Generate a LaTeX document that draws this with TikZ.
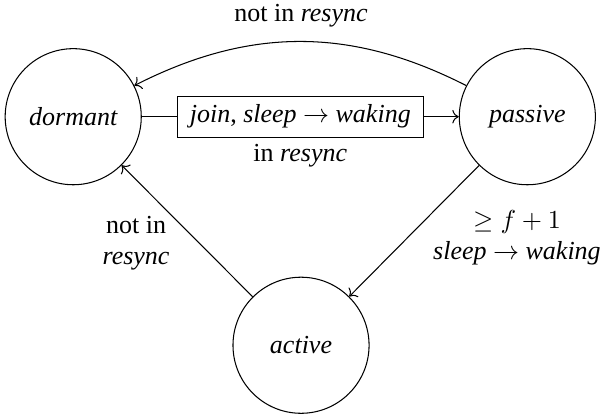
\documentclass[tikz,border=0pt]{standalone}
\usepackage{fontspec}
\setmainfont{Liberation Serif}
\usepackage{tikz}
\usetikzlibrary{arrows.meta, positioning}

\begin{document}
\begin{tikzpicture}[
    statenode/.style={draw, circle, minimum size=1.84cm, inner sep=0pt, font=\itshape},
    guardbox/.style={draw, fill=white, inner xsep=4.8pt},
    >=To]
    \useasboundingbox (0,0) rectangle (8.153,5.638);

    % States
    \node[statenode] (dormant) at (0.99, 4.06) {dormant};
    \node[statenode] (passive) at (7.13, 4.06) {passive};
    \node[statenode] (active) at (4.07, 0.97) {active};

    % dormant -> passive
    \draw[->] (dormant) -- node[guardbox] (joinbox) {\emph{join}, \emph{sleep} $\to$ \emph{waking}} (passive);
    \node (inresync) at (4.06, 3.53) {in \emph{resync}};

    % passive -> dormant
    \draw[->] (passive) to[bend right=27] (dormant);
    \node (notinresync) at (4.07, 5.42) {not in \emph{resync}};

    % active -> dormant
    \draw[->] (active) -- (dormant);
    \node[align=center] (notinlbl) at (1.84, 2.35) {not in\\\emph{resync}};

    % passive -> active
    \draw[->] (passive) -- (active);
    \node[align=center] (quorumlbl) at (6.99, 2.42) {$\geq f+1$\\\emph{sleep} $\to$ \emph{waking}};
\end{tikzpicture}
\end{document}
